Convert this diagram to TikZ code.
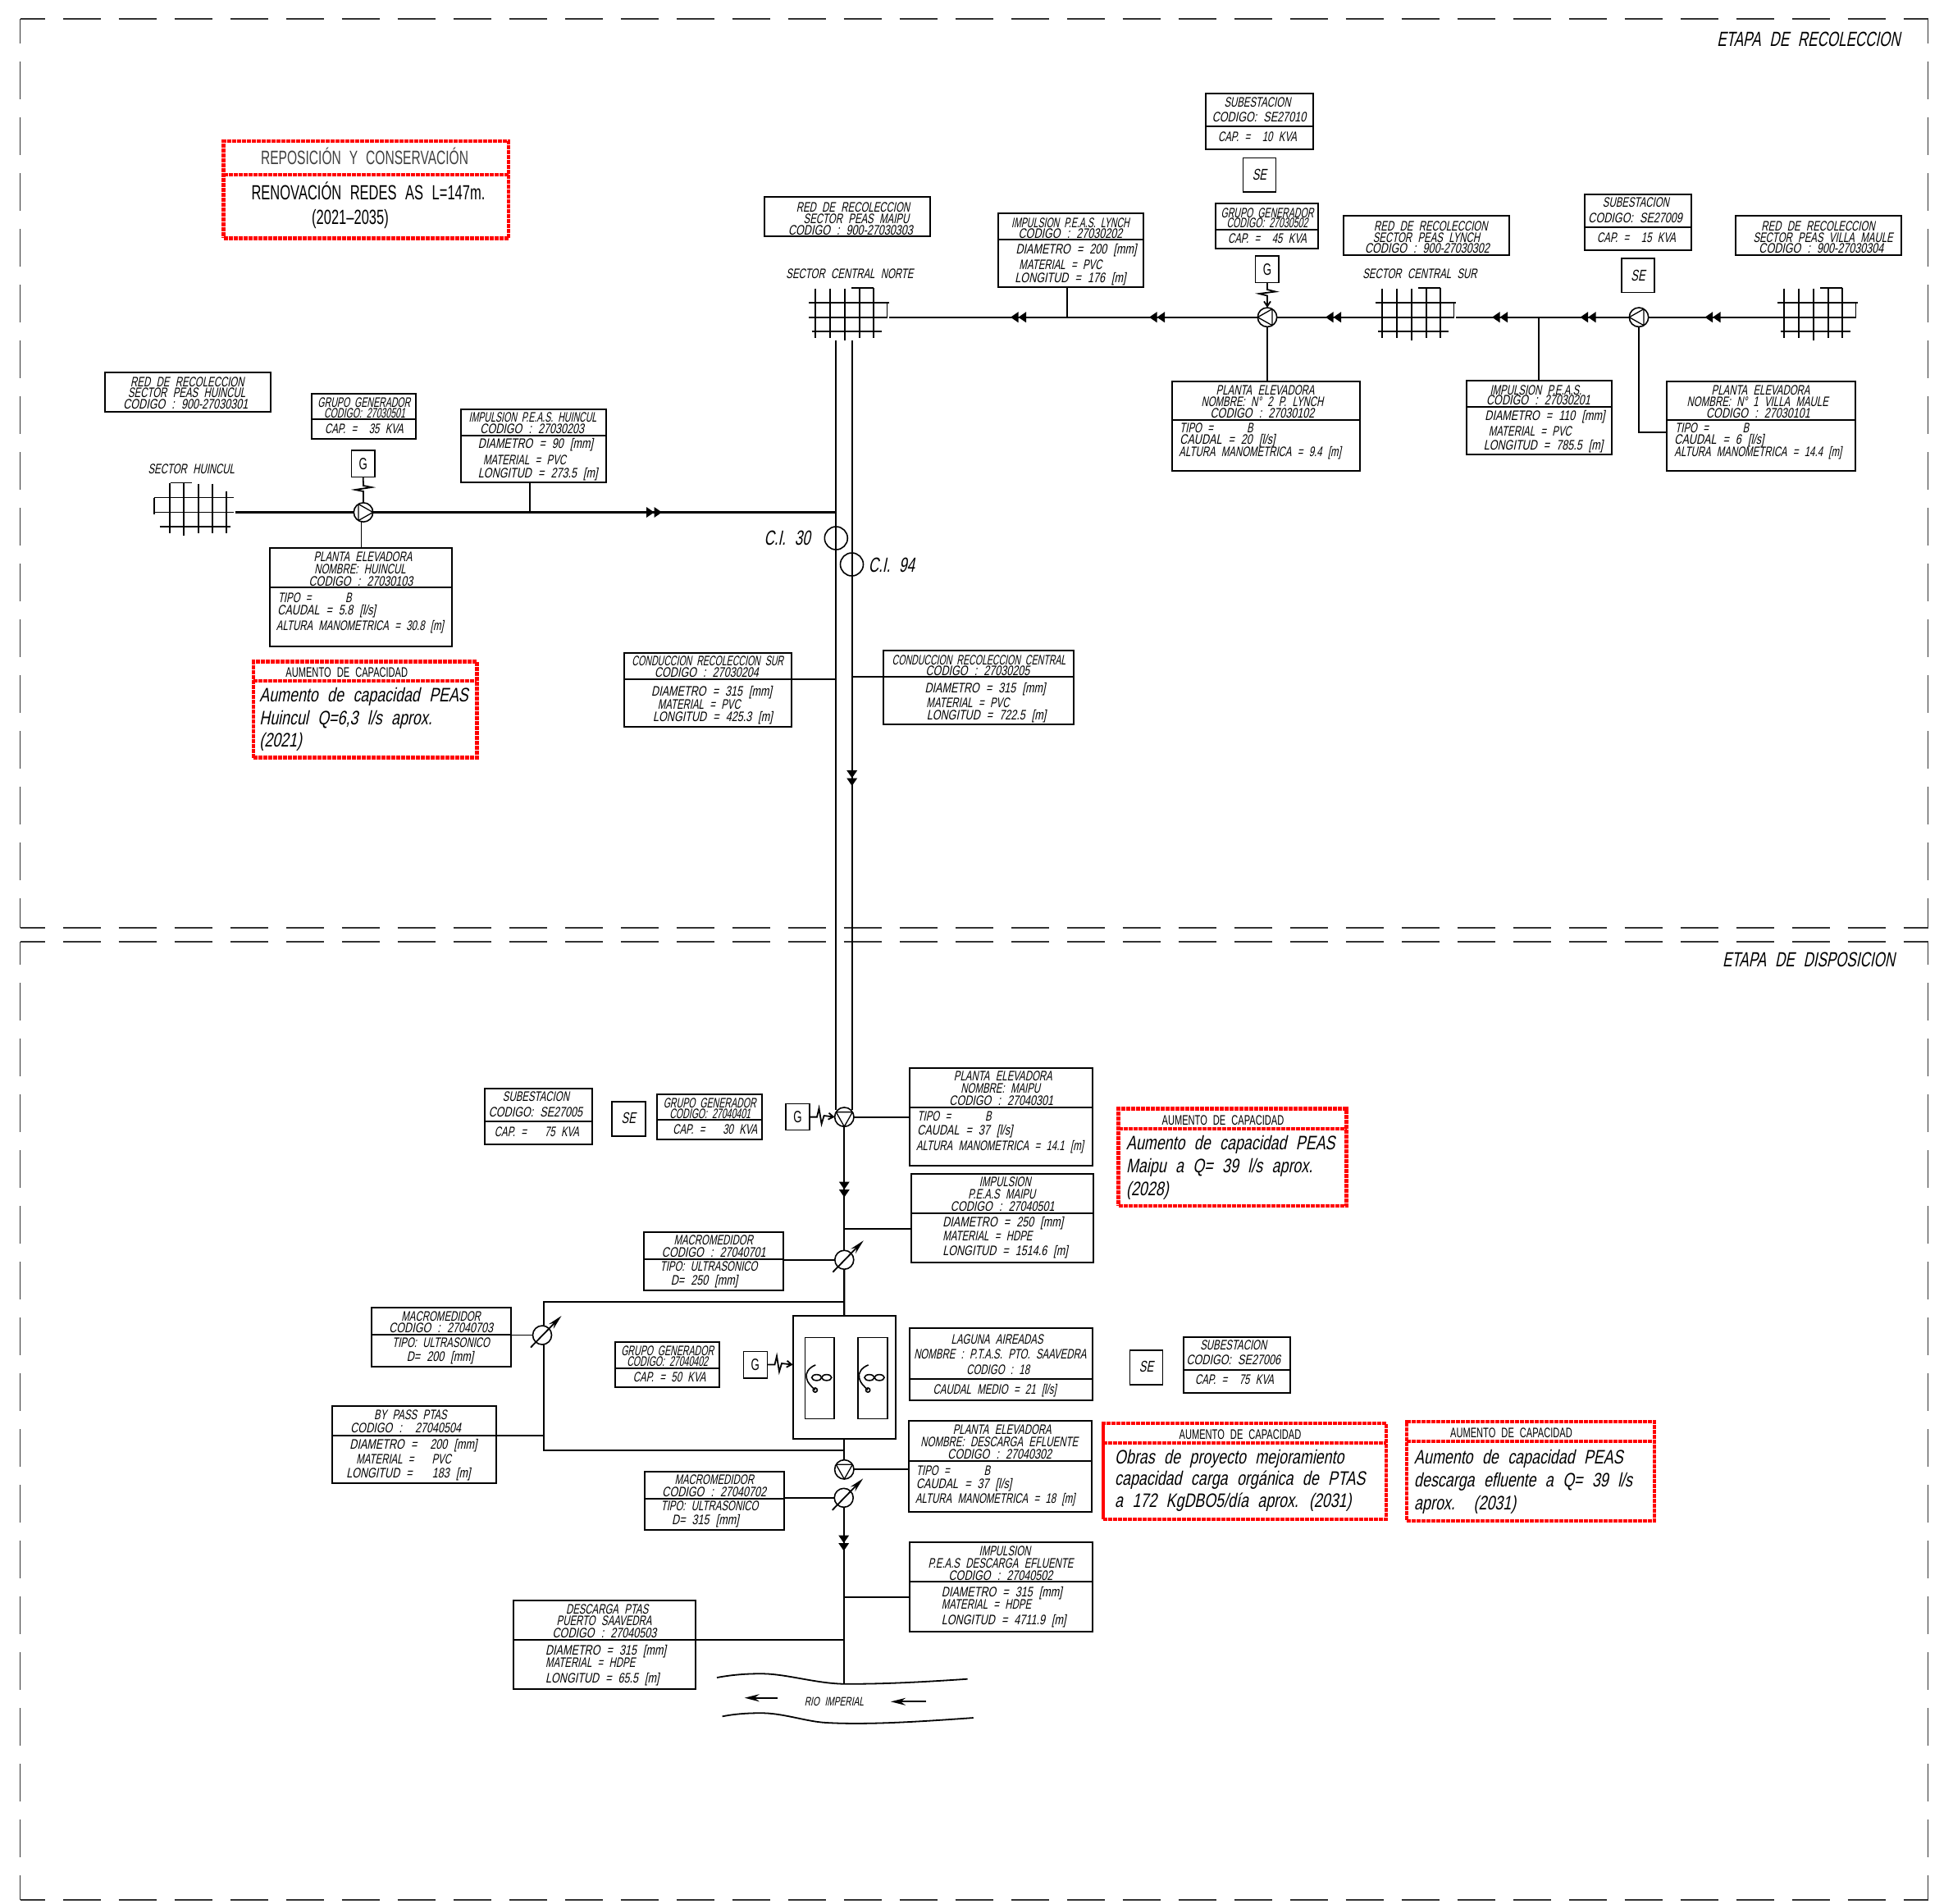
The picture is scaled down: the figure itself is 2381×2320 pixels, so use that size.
\documentclass[tikz,border=0pt]{standalone}
\usepackage{fontspec}
\usetikzlibrary{arrows.meta}
\newfontfamily\cadF[FakeSlant=0.2,FakeStretch=0.68,WordSpace=2.3]{Liberation Sans}
\newfontfamily\cadD[FakeSlant=0.2,FakeStretch=0.75,WordSpace=2.2]{Liberation Sans}
\newfontfamily\cadN[FakeSlant=0.2,FakeStretch=0.63,WordSpace=2.0]{Liberation Sans}
\newfontfamily\cadB[FakeSlant=0.2,FakeStretch=0.75,WordSpace=2.3]{Liberation Sans}
\newfontfamily\cadU[FakeStretch=0.66,WordSpace=2.3]{Liberation Sans}
\definecolor{redline}{RGB}{255,0,0}
\definecolor{inkc}{RGB}{0,0,0}
\definecolor{frame}{RGB}{50,50,50}
\newcounter{tcnt}
\tikzset{
 txt/.style={anchor=base,inner sep=0pt,text=inkc,font=\cadF\fontsize{8.4}{8.4}\selectfont,yshift=-3pt},
 txtl/.style={txt,anchor=base west},
 num/.style={txt,font=\cadD\fontsize{8.4}{8.4}\selectfont},
 numl/.style={txtl,font=\cadD\fontsize{8.4}{8.4}\selectfont},
 nar/.style={txt,font=\cadN\fontsize{8.4}{8.4}\selectfont},
 big/.style={txt,font=\cadF\fontsize{12.5}{12.5}\selectfont,yshift=-1.5pt},
 aum/.style={txtl,font=\cadB\fontsize{11.9}{11.9}\selectfont,yshift=-1.3pt},
 head/.style={txt,font=\cadU\fontsize{8.4}{8.4}\selectfont},
 rep/.style={txt,font=\cadU\fontsize{12.5}{12.5}\selectfont,yshift=-1.5pt},
 repb/.style={txt,text=black!75,font=\cadU\fontsize{11.8}{11.8}\selectfont,yshift=-1.2pt},
 gen/.style={txt,font=\cadU\fontsize{10}{10}\selectfont,yshift=-0.6pt},
 sub/.style={txt,font=\cadF\fontsize{9.5}{9.5}\selectfont,yshift=-0.4pt},
 riv/.style={txt,font=\cadF\fontsize{7.5}{7.5}\selectfont,yshift=0.3pt},
 tbl/.style={draw=inkc,line width=1pt,inner sep=0pt,outer sep=0pt},
 redb/.style={draw=redline,line width=2.2pt,dash pattern=on 2.6pt off 0.4pt,inner sep=0pt,outer sep=0pt},
 slim/.style={draw=inkc,line width=0.8pt,inner sep=0pt,outer sep=0pt},
 pipe/.style={draw=inkc,line width=1.1pt},
 wire/.style={draw=inkc,line width=0.9pt},
 fine/.style={draw=inkc,line width=0.8pt},
 frm/.style={draw=frame,line width=0.8pt,dash pattern=on 23pt off 11pt,dash phase=8pt},
 frmb/.style={frm,dash phase=9pt},
 symb/.style={circle,draw=inkc,line width=0.8pt,minimum size=11.7pt,inner sep=0pt,outer sep=0pt},
 cisym/.style={circle,draw=inkc,line width=0.8pt,minimum size=14pt,inner sep=0pt,outer sep=0pt},
}
\newcommand\lbl[4][txt]{\stepcounter{tcnt}\node[#1] (t\arabic{tcnt}) at (#2,#3) {#4};}
% id x1 y1 x2 y2
\newcommand\nbox[6][tbl]{\pgfmathsetmacro\bw{(#5-#3)*0.5}\pgfmathsetmacro\bh{(#6-#4)*0.5}%
 \node[#1,minimum width=\bw pt,minimum height=\bh pt] (#2) at ({(#3+#5)/2},{(#4+#6)/2}) {};}
% id x1 y1 x2 y2 ydiv
\newcommand\cbox[7][tbl]{\nbox[#1]{#2}{#3}{#4}{#5}{#6}\draw[#1] (#2.west |- 0,#7) -- (#2.east |- 0,#7);}
\newcommand\darrow[3]{\begin{scope}[shift={(#1,#2)},rotate=#3]\fill[inkc] (-9.5,-6.5) -- (0,0) -- (-9.5,6.5) -- cycle (0,-6.5) -- (9.5,0) -- (0,6.5) -- cycle;\end{scope}}
\newcommand\pumpsym[4]{\node[symb] (#1) at (#2,#3) {};
 \begin{scope}[shift={(#2,#3)},rotate=#4]\draw[draw=inkc,line width=0.65pt,line join=round] (-10,-6) -- (10,-6) -- (0,11.7) -- cycle;\end{scope}}
\newcommand\metersym[3]{\node[symb,minimum size=11.5pt] (#1) at (#2,#3) {};
 \begin{scope}[shift={(#2,#3)}]\draw[wire,-{Stealth[length=9pt,width=4pt]}] (-14,15) -- (23.5,-23.5);\end{scope}}
\newcommand\gridsym[3]{\coordinate (#1-w) at (#2,#3);\coordinate (#1-e) at ({#2+98},#3);
 \begin{scope}[shift={(#2,#3)}]\draw[fine]
 (0,-18) -- (98,-18) (0,0) -- (96,0) (3.7,17.3) -- (89,17.3)
 (8,-35) -- (8,25) (26,-35) -- (26,25) (44,-35) -- (44,28) (62,-35) -- (62,25) (79,-36) -- (79,25)
 (52,-36) -- (79,-36) (95.6,-18) -- (95.6,1.5);\end{scope}}
\newcommand\gridsymb[3]{\coordinate (#1-w) at (#2,#3);\coordinate (#1-e) at ({#2+99},#3);
 \begin{scope}[shift={(#2,#3)}]\draw[fine]
 (0,-18) -- (97.5,-18) (0,0) -- (97.5,0) (7,17.3) -- (93,17.3)
 (0,-18) -- (0,2) (19,-36) -- (19,25) (36,-36) -- (36,28) (54,-35) -- (54,25) (71,-35) -- (71,25) (88,-26) -- (88,25)
 (20,-36) -- (46,-36);\end{scope}}
\newcommand\aeratorb[2]{\begin{scope}[shift={(#1,#2)}]\draw[fine]
 (0,0) .. controls (-8,3) and (-13,10) .. (-11,16) .. controls (-10,22) and (-5,26) .. (-0.5,30.6);
 \draw[fine] (1.3,15.3) ellipse (3pt and 1.8pt);
 \draw[fine] (13.5,15.3) ellipse (3pt and 1.8pt);
 \draw[fine] (-0.5,30.6) circle (1.3pt);\end{scope}}
\begin{document}
\begin{tikzpicture}[x=0.5pt,y=-0.5pt]
\useasboundingbox (0,0) rectangle (2381,2320);
\lineskiplimit=-100pt
% frames
\coordinate (f1) at (24.5,23);\coordinate (f2) at (2350.5,23);\coordinate (f3) at (2350.5,1131);\coordinate (f4) at (24.5,1131);
\coordinate (f5) at (24.5,1148);\coordinate (f6) at (2350.5,1148);\coordinate (f7) at (2350.5,2316);\coordinate (f8) at (24.5,2316);
\draw[frm] (f1) -- (f2);\draw[frm] (f1) -- (f4);\draw[frm] (f2) -- (f3);\draw[frm] (f4) -- (f3);
\draw[frm] (f5) -- (f6);\draw[frmb] (f5) -- (f8);\draw[frmb] (f6) -- (f7);\draw[frm] (f8) -- (f7);
\lbl[big]{2205}{47}{ETAPA DE RECOLECCION}
\lbl[big]{2205}{1169}{ETAPA DE DISPOSICION}

% ---- red boxes
\cbox[redb]{rRep}{272.6}{172}{620}{290.3}{212.8}
\lbl[repb]{444.6}{192}{REPOSICIÓN Y CONSERVACIÓN}
\lbl[rep]{449}{234}{RENOVACIÓN REDES AS L=147m.}
\lbl[rep]{427}{264}{(2021–2035)}
\cbox[redb]{rHui}{309}{806.6}{581.4}{923.5}{830}
\lbl[head]{422.8}{819.4}{AUMENTO DE CAPACIDAD}
\lbl[aum]{316}{846.4}{Aumento de capacidad PEAS}
\lbl[aum]{316}{874.5}{Huincul Q=6,3 l/s aprox.}
\lbl[aum]{316}{901.5}{(2021)}
\cbox[redb]{rMai}{1363.6}{1351.5}{1641.5}{1470}{1375.7}
\lbl[head]{1491}{1365}{AUMENTO DE CAPACIDAD}
\lbl[aum]{1372.7}{1392.5}{Aumento de capacidad PEAS}
\lbl[aum]{1372.7}{1421}{Maipu a Q= 39 l/s aprox.}
\lbl[aum]{1372.7}{1448.6}{(2028)}
\cbox[redb]{rObr}{1345}{1735}{1690}{1851.7}{1759}
\lbl[head]{1512}{1748}{AUMENTO DE CAPACIDAD}
\lbl[aum]{1358.8}{1775.7}{Obras de proyecto mejoramiento}
\lbl[aum]{1358.8}{1801.7}{capacidad carga orgánica de PTAS}
\lbl[aum]{1358.8}{1829}{a 172 KgDBO5/día aprox. (2031)}
\cbox[redb]{rEfl}{1715}{1733}{2017}{1854}{1757}
\lbl[head]{1842.5}{1746}{AUMENTO DE CAPACIDAD}
\lbl[aum]{1723.8}{1775.7}{Aumento de capacidad PEAS}
\lbl[aum]{1723.8}{1804}{descarga efluente a Q= 39 l/s}
\lbl[aum]{1723.8}{1831.7}{aprox.~~(2031)}

% ---- upper right
\cbox{se10}{1470}{113.7}{1601}{182.3}{154.3}
\lbl{1533}{124}{SUBESTACION}
\lbl[num]{1535}{142.7}{CODIGO: SE27010}
\lbl{1533}{166.7}{CAP. =~~10 KVA}
\nbox[slim]{seA}{1515.5}{192.3}{1555.4}{233.7}
\lbl[sub]{1535.4}{213}{SE}
\cbox{gg502}{1481.6}{248.3}{1607.4}{303.3}{279.7}
\lbl[nar]{1545}{259}{GRUPO GENERADOR}
\lbl[nar]{1545}{271.7}{CODIGO: 27030502}
\lbl{1545}{290}{CAP. =~~45 KVA}
\nbox[slim]{gA}{1530.6}{311.7}{1559.2}{344.3}
\lbl[gen]{1545}{328}{G}
\cbox{impL}{1216.6}{260}{1393.5}{350}{292}
\lbl[nar]{1305}{271}{IMPULSION P.E.A.S. LYNCH}
\lbl[num]{1305}{284.3}{CODIGO : 27030202}
\lbl[num]{1312}{303}{DIAMETRO = 200 [mm]}
\lbl{1293}{322.3}{MATERIAL = PVC}
\lbl[num]{1305}{338.3}{LONGITUD = 176 [m]}
\nbox{redL}{1637.5}{262.7}{1840}{311}
\lbl{1744.4}{275}{RED DE RECOLECCION}
\lbl{1739}{289.3}{SECTOR PEAS LYNCH}
\lbl[num]{1740}{302.7}{CODIGO : 900-27030302}
\nbox{redV}{2115.7}{262.7}{2317.5}{311}
\lbl{2216.6}{275}{RED DE RECOLECCION}
\lbl{2222.6}{289.3}{SECTOR PEAS VILLA MAULE}
\lbl[num]{2220.4}{302.7}{CODIGO : 900-27030304}
\lbl{1731}{333}{SECTOR CENTRAL SUR}
\cbox{se09}{1932}{236.7}{2062}{305}{276.7}
\lbl{1994.4}{246.7}{SUBESTACION}
\lbl[num]{1993.7}{265}{CODIGO: SE27009}
\lbl{1995}{289.3}{CAP. =~~15 KVA}
\nbox[slim]{seB}{1977}{314.7}{2017}{356.3}
\lbl[sub]{1997}{335.5}{SE}
\cbox{plL}{1429}{465}{1657.8}{574}{512}
\lbl{1542.6}{475}{PLANTA ELEVADORA}
\lbl{1539}{489.3}{NOMBRE: N° 2 P. LYNCH}
\lbl[num]{1539}{503.3}{CODIGO : 27030102}
\lbl[txtl]{1438}{521}{TIPO =}
\lbl{1524}{521}{B}
\lbl[numl]{1438}{535}{CAUDAL = 20 [l/s]}
\lbl[txtl]{1437}{550.7}{ALTURA MANOMETRICA = 9.4 [m]}
\cbox{imp201}{1788}{463.7}{1965}{553.7}{496}
\lbl{1872.4}{475}{IMPULSION P.E.A.S.}
\lbl[num]{1875.5}{487.7}{CODIGO : 27030201}
\lbl[numl]{1810}{506.7}{DIAMETRO = 110 [mm]}
\lbl[txtl]{1814.5}{525.7}{MATERIAL = PVC}
\lbl[numl]{1808.4}{542.7}{LONGITUD = 785.5 [m]}
\cbox{plV}{2032}{465}{2261.7}{574}{512}
\lbl{2146.6}{475}{PLANTA ELEVADORA}
\lbl{2142.8}{489.3}{NOMBRE: N° 1 VILLA MAULE}
\lbl[num]{2143.5}{503.3}{CODIGO : 27030101}
\lbl[txtl]{2042}{521}{TIPO =}
\lbl{2128.5}{521}{B}
\lbl[numl]{2041}{535}{CAUDAL = 6 [l/s]}
\lbl[txtl]{2041}{550.7}{ALTURA MANOMETRICA = 14.4 [m]}
% ---- upper centre / left
\nbox[tbl]{redM}{932}{240.3}{1134}{287.8}
\lbl{1040}{252.6}{RED DE RECOLECCION}
\lbl{1044}{266.8}{SECTOR PEAS MAIPU}
\lbl[num]{1037}{280}{CODIGO : 900-27030303}
\lbl{1036}{333}{SECTOR CENTRAL NORTE}
\nbox{redH}{128}{454}{330}{502}
\lbl{228.4}{465.3}{RED DE RECOLECCION}
\lbl{227.7}{478.6}{SECTOR PEAS HUINCUL}
\lbl[num]{226.3}{492.3}{CODIGO : 900-27030301}
\cbox{gg501}{380}{480}{507}{535}{511}
\lbl[nar]{443.9}{490.3}{GRUPO GENERADOR}
\lbl[nar]{444.5}{503}{CODIGO: 27030501}
\lbl{443.9}{522.4}{CAP. =~~35 KVA}
\nbox[slim]{gB}{428.4}{549}{457}{581.6}
\lbl[gen]{442.7}{565}{G}
\lbl{233.3}{571.4}{SECTOR HUINCUL}
\cbox{impH}{561.8}{498.5}{738.6}{588}{530.6}
\lbl[nar]{649.5}{508.7}{IMPULSION P.E.A.S. HUINCUL}
\lbl[num]{648.8}{522}{CODIGO : 27030203}
\lbl[num]{653}{540.8}{DIAMETRO = 90 [mm]}
\lbl{639.6}{560.7}{MATERIAL = PVC}
\lbl[num]{655.8}{576}{LONGITUD = 273.5 [m]}
\cbox{plH}{328.8}{668.4}{551}{788}{716.3}
\lbl{442.5}{678.6}{PLANTA ELEVADORA}
\lbl{439}{693.4}{NOMBRE: HUINCUL}
\lbl[num]{440}{708}{CODIGO : 27030103}
\lbl[txtl]{338.6}{728}{TIPO =}
\lbl{425}{728}{B}
\lbl[numl]{338}{743.9}{CAUDAL = 5.8 [l/s]}
\lbl[txtl]{336.5}{762}{ALTURA MANOMETRICA = 30.8 [m]}
\cbox{cSur}{761}{796}{965.3}{886}{828}
\lbl[nar]{862.8}{805.6}{CONDUCCION RECOLECCION SUR}
\lbl[num]{861.4}{819.4}{CODIGO : 27030204}
\lbl[num]{867.7}{842.3}{DIAMETRO = 315 [mm]}
\lbl{852.3}{858}{MATERIAL = PVC}
\lbl[num]{869}{873.5}{LONGITUD = 425.3 [m]}
\cbox{cCen}{1076.6}{793.4}{1309}{883}{825}
\lbl[nar]{1193.5}{804.8}{CONDUCCION RECOLECCION CENTRAL}
\lbl[num]{1192}{817}{CODIGO : 27030205}
\lbl[num]{1201}{838}{DIAMETRO = 315 [mm]}
\lbl{1180}{856}{MATERIAL = PVC}
\lbl[num]{1202.6}{871.6}{LONGITUD = 722.5 [m]}
\node[cisym] (ci30) at (1019.3,656) {};
\node[cisym] (ci94) at (1038.5,688) {};
\lbl[big]{959.6}{655}{C.I.~30}
\lbl[big]{1087}{688}{C.I.~94}

% ---- grids and pumps upper
\gridsym{gCN}{986}{386.7}
\gridsym{gCS}{1676.7}{386.7}
\gridsym{gVM}{2166.9}{386.7}
\gridsymb{gHu}{187.7}{624.5}
\pumpsym{pL}{1545}{386.7}{-90}
\pumpsym{pV}{1998}{386.7}{-90}
\pumpsym{pH}{443}{624.5}{90}
\coordinate (jL) at (1301,386.7);
\coordinate (j201) at (1876,386.7);
\coordinate (jH) at (646,624.5);
\coordinate (jHs) at (440.4,635);
\coordinate (jC1) at (1019.3,624.5);
\coordinate (vA) at (1019.3,415);
\coordinate (vB) at (1038.7,415);
\coordinate (eA) at (1019.3,1353);
\coordinate (eB) at (1038.7,1353);
\draw[pipe] (gCN-e) -- (pL.west);
\draw[pipe] (pL.east) -- (gCS-w);
\draw[pipe] (gCS-e) -- (pV.west);
\draw[pipe] (pV.east) -- (gVM-w);
\draw[wire] (jL) -- (jL |- impL.south);
\draw[wire] (j201) -- (j201 |- imp201.north);
\draw[wire] (pL.south) -- (pL.south |- plL.north);
\draw[pipe] (pV.south) -- (pV.south |- 0,526.7) -- (plV.west |- 0,526.7);
\draw[pipe] (gHu-e) -- (pH.west);
\draw[pipe] (pH.east) -- (jC1);
\draw[wire] (jH) -- (jH |- impH.south);
\draw[wire] (jHs) -- (jHs |- plH.north);
\draw[wire] (vA) -- (eA);
\draw[pipe] (vB) -- (eB);
\draw[wire] (cSur.east |- 0,828) -- (vA |- 0,828);
\draw[wire] (vB |- 0,825) -- (cCen.west |- 0,825);
\darrow{1241.5}{386.7}{180}
\darrow{1410.5}{386.7}{180}
\darrow{1625.5}{386.7}{180}
\darrow{1828.5}{386.7}{180}
\darrow{1936}{386.7}{180}
\darrow{2088}{386.7}{180}
\darrow{797.5}{624.5}{0}
\darrow{1038.7}{948.5}{-90}
\draw[wire,-{Straight Barb[length=3pt,width=4pt]}] (gA.south) -- (1545,353) -- (1555,355.5) -- (1535,358) -- (1545,360.5) -- (pL.north);
\draw[wire] (gB.south) -- (443,592) -- (453,594) -- (433,597) -- (443,599) -- (pH.north);

% ---- lower
\cbox{se05}{591}{1326.7}{722}{1395}{1367}
\lbl{653.5}{1336.7}{SUBESTACION}
\lbl[num]{653}{1355}{CODIGO: SE27005}
\lbl{654.5}{1379.2}{CAP. =~~~75 KVA}
\nbox[slim]{seC}{746}{1343}{787}{1385}
\lbl[sub]{766.3}{1363}{SE}
\cbox{gg401}{801.4}{1334}{928.5}{1388.7}{1365}
\lbl[nar]{865.2}{1344.7}{GRUPO GENERADOR}
\lbl[nar]{865.7}{1357}{CODIGO: 27040401}
\lbl{871.8}{1376.5}{CAP. =~~~30 KVA}
\nbox[slim]{gC}{958}{1345.5}{987}{1377.6}
\lbl[gen]{972.5}{1361.5}{G}
\cbox{plM}{1109}{1301.5}{1331.5}{1421}{1349.7}
\lbl{1222.9}{1311.4}{PLANTA ELEVADORA}
\lbl{1219.8}{1326.7}{NOMBRE: MAIPU}
\lbl[num]{1220.8}{1341.7}{CODIGO : 27040301}
\lbl[txtl]{1118.3}{1360.8}{TIPO =}
\lbl{1205}{1360.8}{B}
\lbl[numl]{1118}{1377.3}{CAUDAL = 37 [l/s]}
\lbl[txtl]{1116.7}{1396}{ALTURA MANOMETRICA = 14.1 [m]}
\cbox{impM}{1111}{1430.5}{1333}{1538.8}{1479}
\lbl{1225.4}{1440.4}{IMPULSION}
\lbl{1221.3}{1455.3}{P.E.A.S MAIPU}
\lbl[num]{1222.3}{1470.6}{CODIGO : 27040501}
\lbl[numl]{1148.9}{1489.8}{DIAMETRO = 250 [mm]}
\lbl[txtl]{1148.9}{1506.2}{MATERIAL = HDPE}
\lbl[numl]{1148.9}{1524.6}{LONGITUD = 1514.6 [m]}
\cbox{m701}{784.6}{1501.6}{955}{1573}{1534.5}
\lbl{869.8}{1511.2}{MACROMEDIDOR}
\lbl[num]{870.3}{1526}{CODIGO : 27040701}
\lbl{864.2}{1543.3}{TIPO: ULTRASONICO}
\lbl[num]{858.6}{1560.6}{D= 250 [mm]}
\cbox{m702}{785.6}{1794.4}{956}{1865}{1827}
\lbl{870.8}{1803.2}{MACROMEDIDOR}
\lbl[num]{870.8}{1818}{CODIGO : 27040702}
\lbl{865.2}{1835.3}{TIPO: ULTRASONICO}
\lbl[num]{860}{1852.6}{D= 315 [mm]}
\cbox{m703}{453}{1594.3}{623}{1665.7}{1626.8}
\lbl{537.7}{1604.3}{MACROMEDIDOR}
\lbl[num]{537.7}{1618.2}{CODIGO : 27040703}
\lbl{537.7}{1636}{TIPO: ULTRASONICO}
\lbl[num]{536.6}{1653}{D= 200 [mm]}
\cbox{gg402}{750.4}{1636.3}{877}{1691}{1667.7}
\lbl[nar]{813.7}{1646.3}{GRUPO GENERADOR}
\lbl[nar]{813.7}{1659.3}{CODIGO: 27040402}
\lbl{816.2}{1678.4}{CAP. = 50 KVA}
\nbox[slim]{gD}{906.5}{1647.4}{935.6}{1680}
\lbl[gen]{920.8}{1663.5}{G}
\cbox{lag}{1108.6}{1619}{1331.5}{1707}{1680.7}
\lbl{1215.7}{1632}{LAGUNA AIREADAS}
\lbl{1219.3}{1650.5}{NOMBRE : P.T.A.S. PTO. SAAVEDRA}
\lbl{1216.7}{1669.2}{CODIGO : 18}
\lbl{1212.7}{1693.4}{CAUDAL MEDIO = 21 [l/s]}
\nbox[slim]{seD}{1377.5}{1646}{1417.5}{1688}
\lbl[sub]{1397.5}{1666}{SE}
\cbox{se06}{1442.5}{1629.7}{1572.5}{1697.7}{1669.7}
\lbl{1503.8}{1639.3}{SUBESTACION}
\lbl[num]{1503.8}{1657.7}{CODIGO: SE27006}
\lbl{1505}{1681.7}{CAP. =~~75 KVA}
\cbox{plD}{1108}{1732}{1330.5}{1842.6}{1780.6}
\lbl{1221.8}{1742.7}{PLANTA ELEVADORA}
\lbl{1218.3}{1757.7}{NOMBRE: DESCARGA EFLUENTE}
\lbl[num]{1218.8}{1772.2}{CODIGO : 27040302}
\lbl[txtl]{1116.7}{1792}{TIPO =}
\lbl{1203.5}{1792}{B}
\lbl[numl]{1116.7}{1808}{CAUDAL = 37 [l/s]}
\lbl[txtl]{1115.7}{1826.5}{ALTURA MANOMETRICA = 18 [m]}
\cbox{impD}{1109.4}{1880}{1332}{1988.7}{1928.3}
\lbl{1225}{1890}{IMPULSION}
\lbl{1220}{1905}{P.E.A.S DESCARGA EFLUENTE}
\lbl[num]{1220}{1920}{CODIGO : 27040502}
\lbl[numl]{1147.5}{1940}{DIAMETRO = 315 [mm]}
\lbl[txtl]{1147.5}{1955.7}{MATERIAL = HDPE}
\lbl[numl]{1147.5}{1974.3}{LONGITUD = 4711.9 [m]}
\cbox{byP}{404.5}{1714}{605}{1808}{1750}
\lbl{500.4}{1724}{BY PASS PTAS}
\lbl[num]{494.8}{1740.4}{CODIGO :~~27040504}
\lbl[num]{504}{1760.7}{DIAMETRO =~~200 [mm]}
\lbl{492.2}{1778.6}{MATERIAL =~~~PVC}
\lbl[num]{497.9}{1795.7}{LONGITUD =~~~183 [m]}
\cbox{desc}{626.4}{1950.7}{848.4}{2059.3}{1999}
\lbl{740.2}{1961.4}{DESCARGA PTAS}
\lbl{736.6}{1975.7}{PUERTO SAAVEDRA}
\lbl[num]{737}{1990.7}{CODIGO : 27040503}
\lbl[numl]{664.7}{2011}{DIAMETRO = 315 [mm]}
\lbl[txtl]{664.7}{2026.4}{MATERIAL = HDPE}
\lbl[numl]{664.7}{2045}{LONGITUD = 65.5 [m]}

% lagoon
\nbox[slim]{lagO}{966.7}{1604}{1091.7}{1754.2}
\nbox[slim]{lagA}{981.5}{1630.6}{1017}{1729.3}
\nbox[slim]{lagB}{1045.8}{1630.6}{1082}{1729.3}
\aeratorb{994.3}{1663.9}
\aeratorb{1058.6}{1663.9}

\pumpsym{pM}{1029.3}{1361.6}{0}
\metersym{mA}{1029.3}{1535.7}
\metersym{mB}{661}{1627.5}
\pumpsym{pD}{1029.3}{1791.3}{0}
\metersym{mC}{1028.7}{1825.8}
\coordinate (jTop) at (1029.3,1587);
\coordinate (jBot) at (1029.3,1767.6);
\coordinate (jLeftT) at (662.7,1587);
\coordinate (jLeftB) at (662.7,1767.6);
\coordinate (rivA) at (1028.7,2052);
\coordinate (jImpM) at (1029.3,1498);
\coordinate (jImpD) at (1028.7,1947.3);
\coordinate (jDesc) at (1028.7,1999);
\coordinate (jBy) at (662.7,1750);
\draw[pipe] (pM.south) -- (mA.north);
\draw[pipe] (mA.south) -- (lagO.north);
\draw[pipe] (lagO.south -| jBot) -- (pD.north);
\draw[pipe] (mC.south) -- (rivA);
\draw[pipe] (jTop) -- (jLeftT) -- (jLeftT |- mB.north);
\draw[pipe] (jLeftT |- mB.south) -- (jLeftB) -- (jBot);
\draw[pipe] (pM.east) -- (plM.west |- pM.east);
\draw[pipe] (jImpM) -- (impM.west |- jImpM);
\draw[wire] (m701.east |- mA.west) -- (mA.west);
\draw[wire] (m702.east |- mC.west) -- (mC.west);
\draw[wire] (m703.east |- mB.west) -- (mB.west);
\draw[pipe] (byP.east |- jBy) -- (jBy);
\draw[wire] (pD.east) -- (plD.west |- pD.east);
\draw[wire] (jImpD) -- (impD.west |- jImpD);
\draw[pipe] (desc.east |- jDesc) -- (jDesc);
\darrow{1029.3}{1450}{-90}
\darrow{1028.7}{1881}{-90}
\draw[wire,-{Straight Barb[length=3pt,width=4pt]}] (gC.east |- pM.west) -- (996,1361.6) -- (998.5,1351) -- (1001.6,1370) -- (1004.6,1360) -- (pM.west);
\coordinate (sD) at (944.5,1663.5);
\draw[wire,-{Straight Barb[length=3pt,width=4pt]}] (gD.east |- sD) -- (sD) -- (947,1653) -- (950,1672) -- (953,1662) -- (lagO.west |- sD);
% river
\draw[wire] (874,2045) .. controls (895,2041) and (915,2040) .. (931.6,2040.3) .. controls (960,2041) and (995,2052) .. (1028.6,2052.7) .. controls (1080,2053) and (1130,2050) .. (1179.6,2046.7);
\draw[wire] (880.6,2092.3) .. controls (897,2089) and (915,2088) .. (931.6,2088.3) .. controls (957,2089) and (985,2099) .. (1008,2100) .. controls (1060,2103) and (1130,2098) .. (1186.7,2094);
\coordinate (ra1) at (947.5,2069.7);\coordinate (ra2) at (907.7,2069.7);
\coordinate (ra3) at (1129,2074.3);\coordinate (ra4) at (1086,2074.3);
\draw[pipe,-{Stealth[length=9pt,width=4.5pt]}] (ra1) -- (ra2);
\draw[pipe,-{Stealth[length=9pt,width=4.5pt]}] (ra3) -- (ra4);
\lbl[riv]{1017}{2073.7}{RIO IMPERIAL}
\end{tikzpicture}
\end{document}
